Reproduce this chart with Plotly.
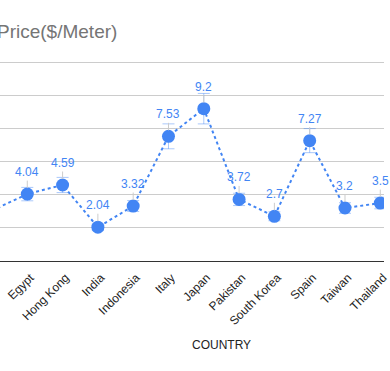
import plotly.graph_objects as go

countries = ["China", "Egypt", "Hong Kong", "India", "Indonesia", "Italy", "Japan",
             "Pakistan", "South Korea", "Spain", "Taiwan", "Thailand"]
prices = [3.05, 4.04, 4.59, 2.04, 3.32, 7.53, 9.2, 3.72, 2.7, 7.27, 3.2, 3.5]
error_pct = 10
y_ticks = [0, 2, 4, 6, 8, 10, 12]

BLUE = "#4285F4"
FONT = "Arial, Liberation Sans, sans-serif"

fig = go.Figure()
fig.add_trace(go.Scatter(
    x=countries, y=prices, mode="lines+markers",
    line=dict(color=BLUE, width=2, dash="dot"),
    marker=dict(color=BLUE, size=13),
    error_y=dict(type="percent", value=error_pct, color="rgba(66,133,244,0.45)",
                 thickness=1, width=6),
    hoverinfo="x+y",
))

annotations = []
for c, v in zip(countries, prices):
    annotations.append(dict(
        x=c, y=v, xref="x", yref="y", text=f"{v:g}",
        showarrow=True, arrowhead=0, arrowwidth=1, arrowcolor="#cccccc",
        ax=0, ay=-22, standoff=6,
        font=dict(family=FONT, size=12, color=BLUE),
    ))

annotations.append(dict(
    x=121 / 390, y=1, xref="paper", yref="paper", yshift=28,
    xanchor="right", yanchor="middle", showarrow=False,
    text="Price($/Meter)", font=dict(family=FONT, size=19, color="#757575"),
))
annotations.append(dict(
    x=224.7 / 390, y=0, xref="paper", yref="paper", yshift=-84,
    xanchor="center", yanchor="middle", showarrow=False,
    text="COUNTRY", font=dict(family=FONT, size=12, color="#222222"),
))

fig.update_layout(
    width=390, height=371,
    margin=dict(l=0, r=0, t=59, b=110),
    paper_bgcolor="white", plot_bgcolor="white",
    showlegend=False,
    font=dict(family=FONT, size=12, color="#222222"),
    annotations=annotations,
    xaxis=dict(
        type="category", range=[0.227, 11.105],
        tickangle=-45, showgrid=False, zeroline=False,
        showline=True, linecolor="#333333", linewidth=1,
        ticks="", tickfont=dict(family=FONT, size=12, color="#222222"),
        ticklabelstandoff=4, ticklabelshift=3,
    ),
    yaxis=dict(
        range=[0, 12.2], tickvals=y_ticks, showticklabels=False,
        showgrid=True, gridcolor="#cccccc", gridwidth=1,
        zeroline=False, showline=False,
    ),
)

fig.write_html("out.html", config={"displayModeBar": False},
               post_script="document.body.style.margin='0';document.body.style.overflow='hidden';")
